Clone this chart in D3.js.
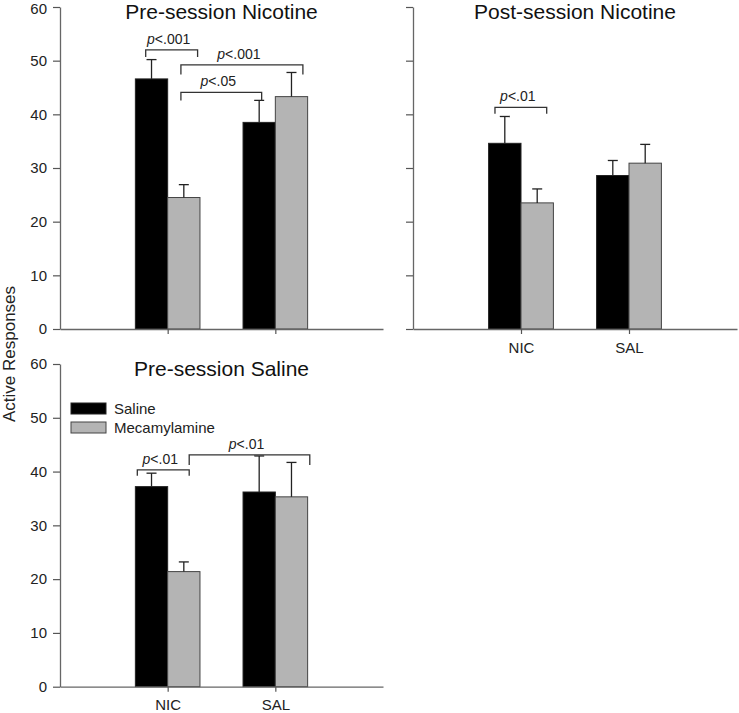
<!DOCTYPE html>
<html>
<head>
<meta charset="utf-8">
<script src="https://cdn.jsdelivr.net/npm/d3@7"></script>
<style>
  html, body { margin: 0; padding: 0; background: #fff; }
  svg { display: block; font-family: "Liberation Sans", Arial, sans-serif; }
</style>
</head>
<body>
<svg id="chart" width="739" height="713"></svg>
<script>
// ---------- data ----------
const categories = ["NIC", "SAL"];
const seriesNames = ["Saline", "Mecamylamine"];
const yTicks = [0, 10, 20, 30, 40, 50, 60];
const panelTitles = ["Pre-session Nicotine", "Post-session Nicotine", "Pre-session Saline"];

// means (NIC, SAL) and SEM for each series
const preNicSaline = [46.6, 38.5];
const preNicSalineErr = [3.6, 4.1];
const preNicMec = [24.5, 43.3];
const preNicMecErr = [2.4, 4.5];

const postNicSaline = [34.6, 28.6];
const postNicSalineErr = [5.0, 2.8];
const postNicMec = [23.5, 30.9];
const postNicMecErr = [2.6, 3.5];

const preSalSaline = [37.2, 36.2];
const preSalSalineErr = [2.5, 6.7];
const preSalMec = [21.4, 35.3];
const preSalMecErr = [1.8, 6.4];

// significance brackets: x in category units, top / leg bottom in response units
const preNicBrackets = [
  { x1: 0.796, x2: 1.278, top: 52.0, leg: 50.7, label: "<.001" },
  { x1: 1.123, x2: 2.256, top: 49.2, leg: 47.4, label: "<.001" },
  { x1: 1.123, x2: 1.873, top: 44.1, leg: 42.6, label: "<.05" }
];
const postNicBrackets = [
  { x1: 0.759, x2: 1.238, top: 41.3, leg: 40.1, label: "<.01" }
];
const preSalBrackets = [
  { x1: 0.718, x2: 1.200, top: 40.3, leg: 39.2, label: "<.01" },
  { x1: 1.200, x2: 2.320, top: 43.1, leg: 41.2, label: "<.01" }
];

// ---------- layout ----------
const panels = [
  { title: panelTitles[0], x0: 60,  w: 323, top: 7, bottom: 329,
    sal: preNicSaline, salErr: preNicSalineErr, mec: preNicMec, mecErr: preNicMecErr,
    brackets: preNicBrackets, yLabels: true, xLabels: false, legend: false },
  { title: panelTitles[1], x0: 413, w: 324, top: 7, bottom: 329,
    sal: postNicSaline, salErr: postNicSalineErr, mec: postNicMec, mecErr: postNicMecErr,
    brackets: postNicBrackets, yLabels: false, xLabels: true, legend: false },
  { title: panelTitles[2], x0: 60,  w: 323, top: 364, bottom: 686.7,
    sal: preSalSaline, salErr: preSalSalineErr, mec: preSalMec, mecErr: preSalMecErr,
    brackets: preSalBrackets, yLabels: true, xLabels: true, legend: true }
];

const colors = ["#000000", "#b4b4b4"];
const strokes = ["#222222", "#444444"];
const barW = 0.3; // in category units

const svg = d3.select("#chart");

panels.forEach((p, pi) => {
  const x = d3.scaleLinear().domain([0, 3]).range([p.x0, p.x0 + p.w]);
  const y = d3.scaleLinear().domain([0, 60]).range([p.bottom, p.top]);
  const g = svg.append("g");

  // bars
  const seriesData = [
    { vals: p.sal, errs: p.salErr, off: -barW, i: 0 },
    { vals: p.mec, errs: p.mecErr, off: 0, i: 1 }
  ];
  seriesData.forEach(s => {
    const d = categories.map((c, k) => ({ c: k + 1, v: s.vals[k], e: s.errs[k] }));
    g.selectAll(null).data(d).enter().append("rect")
      .attr("x", t => x(t.c + s.off))
      .attr("y", t => y(t.v))
      .attr("width", x(barW) - x(0))
      .attr("height", t => y(0) - y(t.v))
      .attr("fill", colors[s.i])
      .attr("stroke", strokes[s.i])
      .attr("stroke-width", 1);
    // error bars (upper only)
    const cx = t => x(t.c + s.off + barW / 2);
    g.selectAll(null).data(d).enter().append("line")
      .attr("x1", cx).attr("x2", cx)
      .attr("y1", t => y(t.v)).attr("y2", t => y(t.v + t.e))
      .attr("stroke", "#222").attr("stroke-width", 1.3);
    g.selectAll(null).data(d).enter().append("line")
      .attr("x1", t => cx(t) - 5).attr("x2", t => cx(t) + 5)
      .attr("y1", t => y(t.v + t.e)).attr("y2", t => y(t.v + t.e))
      .attr("stroke", "#222").attr("stroke-width", 1.3);
  });

  // y axis
  const ya = g.append("g").attr("transform", `translate(${p.x0},0)`)
    .call(d3.axisLeft(y).tickValues(yTicks).tickSize(7).tickSizeOuter(0).tickPadding(6)
      .tickFormat(p.yLabels ? d3.format("d") : () => ""));
  ya.selectAll("text").attr("font-size", 15).attr("fill", "#222")
    .attr("font-family", "Liberation Sans, Arial, sans-serif");
  if (pi === 0) {
    // keep the top label inside the picture edge
    ya.selectAll(".tick").filter(d => d === 60).select("text").attr("y", 2);
  }

  // x axis
  const xa = g.append("g").attr("transform", `translate(0,${p.bottom})`)
    .call(d3.axisBottom(x).tickValues([1, 2]).tickSize(5).tickSizeOuter(0).tickPadding(8)
      .tickFormat((d, i) => p.xLabels ? categories[i] : ""));
  xa.selectAll("text").attr("font-size", 15).attr("fill", "#222")
    .attr("font-family", "Liberation Sans, Arial, sans-serif");

  [ya, xa].forEach(a => {
    a.select(".domain").attr("stroke", "#666").attr("stroke-width", 1.3);
    a.selectAll(".tick line").attr("stroke", "#555").attr("stroke-width", 1.2);
  });

  // title
  g.append("text")
    .attr("x", p.x0 + p.w / 2).attr("y", p.top + 11.5)
    .attr("text-anchor", "middle").attr("font-size", 21).attr("fill", "#111")
    .text(p.title);

  // significance brackets
  p.brackets.forEach(b => {
    const xl = x(b.x1), xr = x(b.x2), yt = y(b.top), yl = y(b.leg);
    g.append("path")
      .attr("d", `M${xl},${yl}V${yt}H${xr}V${yl}`)
      .attr("fill", "none").attr("stroke", "#333").attr("stroke-width", 1.3);
    const t = g.append("text")
      .attr("x", (xl + xr) / 2 - 3).attr("y", yt - 6)
      .attr("text-anchor", "middle").attr("font-size", 14).attr("fill", "#222");
    t.append("tspan").attr("font-style", "italic").text("p");
    t.append("tspan").text(b.label);
  });

  // legend
  if (p.legend) {
    const lg = g.append("g");
    seriesNames.forEach((n, i) => {
      lg.append("rect")
        .attr("x", 71).attr("y", 403 + i * 19).attr("width", 35).attr("height", 11)
        .attr("fill", colors[i]).attr("stroke", strokes[i]).attr("stroke-width", 1);
      lg.append("text")
        .attr("x", 114).attr("y", 413.5 + i * 19.5)
        .attr("font-size", 15).attr("fill", "#222").text(n);
    });
  }
});

// shared y-axis label
svg.append("text")
  .attr("transform", "translate(15,354) rotate(-90)")
  .attr("text-anchor", "middle").attr("font-size", 17).attr("fill", "#222")
  .text("Active Responses");
</script>
</body>
</html>
